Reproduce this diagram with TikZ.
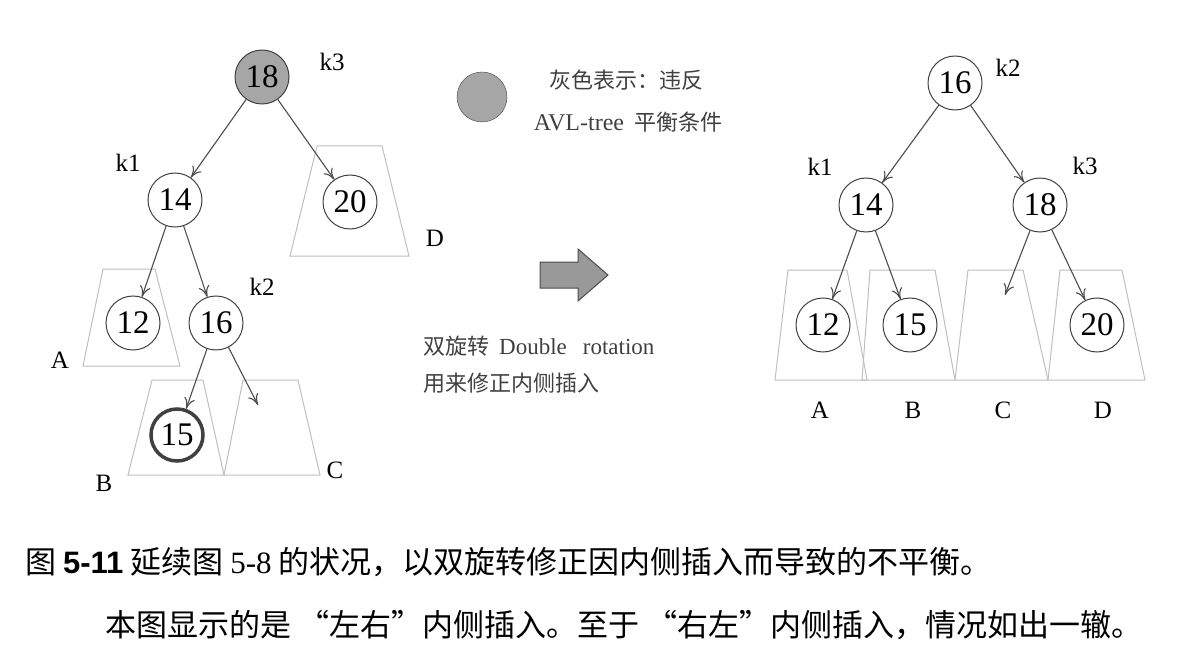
\documentclass[tikz,border=0pt]{standalone}
\usepackage{fontspec}
\setmainfont{Liberation Serif}
\setsansfont{Liberation Sans}
\newfontfamily\cjk{Noto Sans CJK SC}
\usetikzlibrary{arrows.meta}
\begin{document}
\begin{tikzpicture}[x=1pt,y=-1pt,
  nd/.style={circle,draw=black!75,line width=1pt,minimum size=54pt,inner sep=0pt,font=\fontsize{33}{33}\selectfont},
  lb/.style={font=\fontsize{25}{25}\selectfont},
  tz/.style={draw=black!25,line width=1pt},
  ar/.style={draw=black!70,line width=1.1pt,-{To[length=11pt,width=11pt]}},
  cj/.style={font=\cjk\fontsize{22}{22}\selectfont,text=black!75,inner sep=0pt},
  captxt/.style={font=\cjk\fontsize{31}{31}\selectfont,anchor=west,inner sep=0pt}]
\useasboundingbox (0,0) rectangle (1198,660);
% left tree trapezoids
\draw[tz] (103,269) -- (155,269) -- (180,366) -- (83,366) -- cycle;
\draw[tz] (317,146) -- (382,146) -- (409,256) -- (290,256) -- cycle;
\draw[tz] (152,380) -- (203,380) -- (224,475) -- (128,475) -- cycle;
\draw[tz] (243,380) -- (298,380) -- (320,475) -- (224,475) -- cycle;
\node[nd,fill=black!35] (a18) at (262,77) {18};
\node[nd] (a14) at (175,200) {14};
\node[nd] (a20) at (350,202) {20};
\node[nd] (a12) at (133,323) {12};
\node[nd] (a16) at (216,323) {16};
\node[nd,line width=3.5pt,minimum size=52pt] (a15) at (177,435) {15};
\coordinate (aC) at (258,405);
\node[lb] at (332,62) {k3};
\node[lb] at (128,163) {k1};
\node[lb] at (262,287) {k2};
\node[lb] at (60,360) {A};
\node[lb] at (435,238) {D};
\node[lb] at (104,483) {B};
\node[lb] at (335,470) {C};
\draw[ar] (a18) -- (a14);
\draw[ar] (a18) -- (a20);
\draw[ar] (a14) -- (a12);
\draw[ar] (a14) -- (a16);
\draw[ar] (a16) -- (a15);
\draw[ar] (a16) -- (aC);
% legend
\node[circle,draw=black!75,fill=black!35,minimum size=50pt] (leg) at (482,97) {};
\node[cj] (l1) at (626,80) {灰色表示：违反};
\node[cj,font=\fontsize{24}{24}\selectfont] (l2) at (628,122) {AVL-tree\, {\cjk\fontsize{22}{22}\selectfont 平衡条件}};
% big arrow
\draw[draw=black!70,fill=black!40,line width=1pt] (540,262) -- (578,262) -- (578,249) -- (608,275) -- (578,301) -- (578,288) -- (540,288) -- cycle;
\node[cj,anchor=west] (t1) at (423,346) {双旋转\hspace{10pt}{\rmfamily\fontsize{23}{23}\selectfont Double\hspace{16pt}rotation}};
\node[cj,anchor=west] (t2) at (423,383) {用来修正内侧插入};
% right tree trapezoids
\draw[tz] (788,270) -- (847,270) -- (867,380) -- (775,380) -- cycle;
\draw[tz] (870,270) -- (935,270) -- (955,380) -- (862,380) -- cycle;
\draw[tz] (968,270) -- (1023,270) -- (1048,380) -- (955,380) -- cycle;
\draw[tz] (1060,270) -- (1122,270) -- (1145,380) -- (1048,380) -- cycle;
\node[nd] (b16) at (955,83) {16};
\node[nd] (b14) at (866,205) {14};
\node[nd] (b18) at (1040,205) {18};
\node[nd] (b12) at (823,325) {12};
\node[nd] (b15) at (910,325) {15};
\node[nd] (b20) at (1097,325) {20};
\coordinate (bC) at (1005,295);
\node[lb] at (1008,68) {k2};
\node[lb] at (820,167) {k1};
\node[lb] at (1085,166) {k3};
\node[lb] at (820,410) {A};
\node[lb] at (913,410) {B};
\node[lb] at (1003,410) {C};
\node[lb] at (1103,410) {D};
\draw[ar] (b16) -- (b14);
\draw[ar] (b16) -- (b18);
\draw[ar] (b14) -- (b12);
\draw[ar] (b14) -- (b15);
\draw[ar] (b18) -- (bC);
\draw[ar] (b18) -- (b20);
% caption
\node[captxt] (c1) at (25,562) {图 {\sffamily\bfseries 5-11} 延续图 {\rmfamily 5-8} 的状况，以双旋转修正因内侧插入而导致的不平衡。};
\node[captxt] (c2) at (105,625) {本图显示的是 “左右”内侧插入。至于 “右左”内侧插入，情况如出一辙。};
\end{tikzpicture}
\end{document}
